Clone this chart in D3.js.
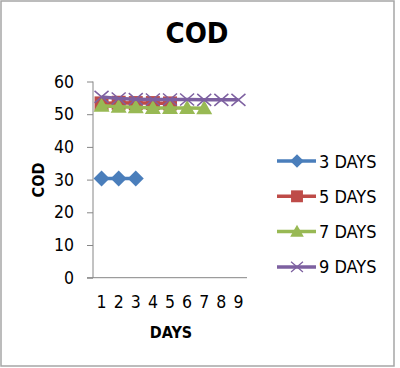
<!DOCTYPE html>
<html>
<head>
<meta charset="utf-8">
<script src="https://cdn.jsdelivr.net/npm/d3@7"></script>
<style>
  body { margin: 0; background: #fff; }
  svg { display: block; font-family: "DejaVu Sans Condensed", "DejaVu Sans", sans-serif; }
</style>
</head>
<body>
<div id="container"></div>
<script>
var days = [1, 2, 3, 4, 5, 6, 7, 8, 9];
var seriesNames = ["3 DAYS", "5 DAYS", "7 DAYS", "9 DAYS"];
var days3 = [30.3, 30.3, 30.3];
var days5 = [53.3, 53.5, 53.4, 53.4, 53.3];
var days7 = [52.6, 52.3, 52.1, 51.9, 51.9, 51.9, 51.8];
var days9 = [55.3, 54.8, 54.6, 54.5, 54.5, 54.5, 54.4, 54.4, 54.4];
var yTicks = [0, 10, 20, 30, 40, 50, 60];
var colors = ["#4a7ebb", "#be4b48", "#98b954", "#7d60a0"];

var series = [days3, days5, days7, days9].map(function(v, i) {
  return { name: seriesNames[i], values: v, color: colors[i] };
});

var width = 400, height = 368;

var svg = d3.select("#container").append("svg")
    .attr("width", width)
    .attr("height", height);

// outer frame
svg.append("rect")
   .attr("x", 1).attr("y", 1)
   .attr("width", 393).attr("height", 365)
   .attr("fill", "#fff")
   .attr("stroke", "#a6a6a6")
   .attr("stroke-width", 1.5);

var x = d3.scaleBand()
          .domain(days)
          .range([93, 247]);
var y = d3.scaleLinear()
          .domain([0, 60])
          .range([277.7, 81.5]);

// axes
var yAxis = svg.append("g")
   .attr("transform", "translate(93,0)")
   .call(d3.axisLeft(y).tickValues(yTicks).tickSize(6).tickPadding(13));
yAxis.selectAll("text").attr("font-size", 17.5).attr("fill", "#000")
   .attr("font-family", "DejaVu Sans Condensed, DejaVu Sans");
yAxis.selectAll("line, path").attr("stroke", "#868686");
yAxis.select(".domain").attr("d", "M0,81.5V277.7");

var xAxis = svg.append("g")
   .attr("transform", "translate(0,277.7)")
   .call(d3.axisBottom(x).tickSize(0).tickPadding(18));
xAxis.selectAll("text").attr("font-size", 17.5).attr("fill", "#000")
   .attr("font-family", "DejaVu Sans Condensed, DejaVu Sans");
xAxis.select(".domain").attr("stroke", "#868686").attr("d", "M87,0H247");

// titles
svg.append("text")
   .attr("x", 197).attr("y", 43)
   .attr("text-anchor", "middle")
   .attr("font-weight", "bold")
   .attr("font-size", 29)
   .text("COD");

svg.append("text")
   .attr("transform", "translate(44,180) rotate(-90)")
   .attr("text-anchor", "middle")
   .attr("font-weight", "bold")
   .attr("font-size", 16)
   .text("COD");

svg.append("text")
   .attr("x", 171).attr("y", 338)
   .attr("text-anchor", "middle")
   .attr("font-weight", "bold")
   .attr("font-size", 16)
   .text("DAYS");

var cx = function(i) { return x(days[i]) + x.bandwidth() / 2; };

function drawMarker(g, k, color, s) {
  if (k === 0) {
    g.append("path").attr("d", "M0,-8L8,0L0,8L-8,0Z").attr("fill", color);
  } else if (k === 1) {
    g.append("rect").attr("x", -7).attr("y", -7).attr("width", 14).attr("height", 14).attr("fill", color);
  } else if (k === 2) {
    g.append("path").attr("d", "M0,-8L8,6L-8,6Z").attr("fill", color);
  } else {
    g.append("path").attr("d", "M-7,-6L7,6M-7,6L7,-6").attr("stroke", color).attr("stroke-width", 1.5).attr("fill", "none");
  }
  g.attr("transform", g.attr("transform") + " scale(" + s + ")");
}

var line = d3.line()
   .x(function(d, i) { return cx(i); })
   .y(function(d) { return y(d); });

series.forEach(function(s, k) {
  svg.append("path")
     .datum(s.values)
     .attr("d", line)
     .attr("fill", "none")
     .attr("stroke", s.color)
     .attr("stroke-width", 3.5);
  s.values.forEach(function(v, i) {
    var g = svg.append("g").attr("transform", "translate(" + cx(i) + "," + y(v) + ")");
    drawMarker(g, k, s.color, 1);
  });
});

// legend
var legend = svg.append("g");
series.forEach(function(s, k) {
  var ly = 161 + k * 35.3;
  legend.append("line")
     .attr("x1", 277).attr("x2", 316)
     .attr("y1", ly).attr("y2", ly)
     .attr("stroke", s.color).attr("stroke-width", 3.5);
  var g = legend.append("g").attr("transform", "translate(297," + ly + ")");
  drawMarker(g, k, s.color, 0.85);
  legend.append("text")
     .attr("x", 319).attr("y", ly + 6.5)
     .attr("font-size", 18)
     .text(s.name);
});
</script>
</body>
</html>
